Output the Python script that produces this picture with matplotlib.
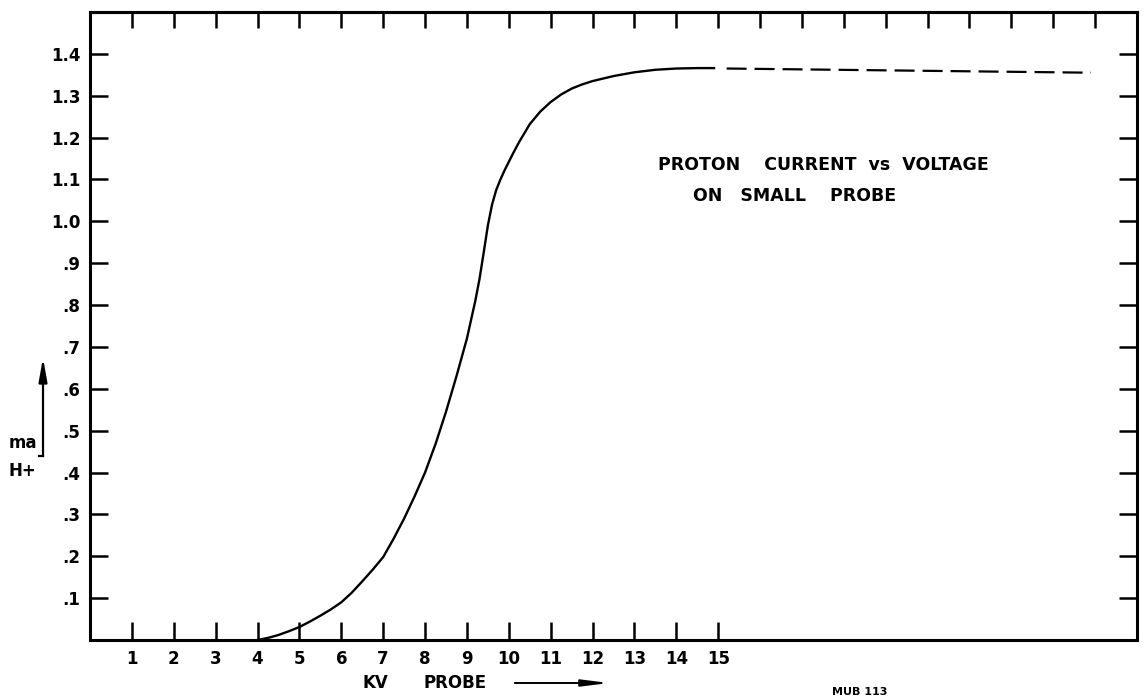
import matplotlib.pyplot as plt

# proton current (ma H+) vs probe voltage (kV)
kv = [4, 4.25, 4.5, 4.75, 5, 5.25, 5.5, 5.75, 6, 6.25, 6.5, 6.75, 7, 7.25,
      7.5, 7.75, 8, 8.25, 8.5, 8.75, 9, 9.1, 9.2, 9.3, 9.4, 9.5, 9.6, 9.7,
      9.8, 9.9, 10, 10.1, 10.25, 10.5, 10.75, 11, 11.25, 11.5, 11.75, 12,
      12.5, 13, 13.5, 14, 14.5, 14.9]
ma = [0, 0.005, 0.012, 0.021, 0.031, 0.044, 0.058, 0.073, 0.09, 0.113,
      0.14, 0.168, 0.198, 0.242, 0.29, 0.343, 0.40, 0.468, 0.545, 0.63,
      0.72, 0.765, 0.81, 0.862, 0.925, 0.99, 1.04, 1.075, 1.10, 1.122,
      1.142, 1.162, 1.19, 1.232, 1.262, 1.285, 1.303, 1.317, 1.327, 1.335,
      1.347, 1.356, 1.362, 1.365, 1.366, 1.366]

# extrapolated part (dashed)
kv_ext = [15.2, 23.9]
ma_ext = [1.365, 1.355]

x_ticks = list(range(1, 16))
top_ticks = list(range(1, 25))
y_ticks = [0.1, 0.2, 0.3, 0.4, 0.5, 0.6, 0.7, 0.8, 0.9, 1.0, 1.1, 1.2, 1.3, 1.4]
y_labels = ['.1', '.2', '.3', '.4', '.5', '.6', '.7', '.8', '.9',
            '1.0', '1.1', '1.2', '1.3', '1.4']

plt.rcParams['font.family'] = 'DejaVu Sans'
plt.rcParams['font.weight'] = 'bold'

fig = plt.figure(figsize=(11.46, 6.99), dpi=100)
ax = fig.add_axes([90 / 1146, 1 - 640 / 699, 1047 / 1146, 628 / 699])

ax.plot(kv, ma, color='black', lw=1.7, solid_joinstyle='round')
ax.plot(kv_ext, ma_ext, color='black', lw=1.6, dashes=(9, 3.6))

ax.set_xlim(0, 25)
ax.set_ylim(0, 1.5)

for s in ax.spines.values():
    s.set_linewidth(2.2)

ax.set_xticks(x_ticks)
ax.set_xticklabels([str(t) for t in x_ticks])
ax.set_yticks(y_ticks)
ax.set_yticklabels(y_labels)
ax.tick_params(axis='x', direction='in', length=13, width=1.8, pad=7, labelsize=12)
ax.tick_params(axis='y', direction='in', length=13, width=1.8, pad=7, labelsize=12,
               right=True)

# ticks along the top edge run further than the labelled bottom ones
top = ax.secondary_xaxis('top')
top.set_xticks(top_ticks)
top.set_xticklabels([])
top.tick_params(direction='in', length=11.5, width=1.8)
top.spines['top'].set_linewidth(2.2)

ax.text(0.70, 0.756, 'PROTON    CURRENT  vs  VOLTAGE', transform=ax.transAxes,
        ha='center', va='center', fontsize=12.5)
ax.text(0.673, 0.707, 'ON   SMALL    PROBE', transform=ax.transAxes,
        ha='center', va='center', fontsize=12.5)

# axis captions with hand-drawn style arrows
fig.text(23 / 1146, 1 - 443 / 699, 'ma', ha='center', va='center', fontsize=12)
fig.text(22 / 1146, 1 - 471 / 699, 'H+', ha='center', va='center', fontsize=12)
fig.add_artist(plt.Line2D([43 / 1146, 43 / 1146], [1 - 456 / 699, 1 - 380 / 699],
                          color='black', lw=1.6))
fig.add_artist(plt.Line2D([39 / 1146, 43 / 1146], [1 - 456 / 699, 1 - 456 / 699],
                          color='black', lw=1.6))
ax.annotate('', xy=(43 / 1146, 1 - 355 / 699), xytext=(43 / 1146, 1 - 385 / 699),
            xycoords='figure fraction',
            arrowprops=dict(arrowstyle='-|>,head_length=1.4,head_width=0.25',
                            color='black', lw=1.6))

fig.text(375 / 1146, 1 - 683 / 699, 'KV', ha='center', va='center', fontsize=12)
fig.text(455 / 1146, 1 - 683 / 699, 'PROBE', ha='center', va='center', fontsize=12)
ax.annotate('', xy=(612 / 1146, 1 - 683 / 699), xytext=(512 / 1146, 1 - 683 / 699),
            xycoords='figure fraction',
            arrowprops=dict(arrowstyle='-|>,head_length=1.6,head_width=0.2',
                            color='black', lw=1.4))

# drawing number at the bottom edge
fig.text(832 / 1146, 1 - 697 / 699, 'MUB 113', ha='left', va='bottom', fontsize=8)

fig.savefig('out.png', dpi=100)
